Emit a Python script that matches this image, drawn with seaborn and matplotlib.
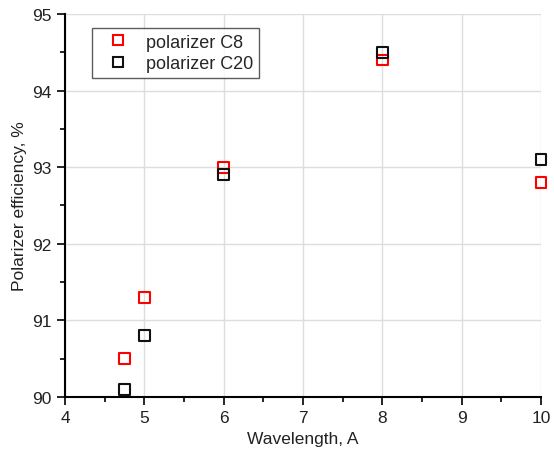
import matplotlib
matplotlib.use("Agg")
import matplotlib.pyplot as plt
import seaborn as sns
import pandas as pd
from matplotlib.ticker import MultipleLocator
from matplotlib.lines import Line2D

wavelength = [4.75, 5, 6, 8, 10]
eff_c8 = [90.5, 91.3, 93.0, 94.4, 92.8]
eff_c20 = [90.1, 90.8, 92.9, 94.5, 93.1]
series_names = ["polarizer C8", "polarizer C20"]
colors = ["#ff0000", "#111111"]

sns.set_theme(style="white")
plt.rcParams['font.family'] = ['Liberation Sans', 'DejaVu Sans']

fig = plt.figure(figsize=(5.54, 4.56), dpi=100)
ax = fig.add_axes([65/554, 1-398/456, (541-65)/554, (398-15)/456])

for ys, c in zip([eff_c8, eff_c20], colors):
    sns.scatterplot(x=wavelength, y=ys, marker="s", s=60, facecolors="none",
                    edgecolors=c, linewidth=1.5, ax=ax, legend=False, clip_on=False, zorder=3)
for coll, c in zip(ax.collections, colors):
    coll.set_facecolor("none")
    coll.set_edgecolor(c)

ax.set_xlim(4, 10)
ax.set_ylim(90, 95)
ax.xaxis.set_major_locator(MultipleLocator(1))
ax.xaxis.set_minor_locator(MultipleLocator(0.5))
ax.yaxis.set_major_locator(MultipleLocator(1))
ax.yaxis.set_minor_locator(MultipleLocator(0.5))
ax.grid(True, which="major", color="#dddddd", linewidth=1)
ax.set_axisbelow(True)
for s in ["top", "right"]:
    ax.spines[s].set_visible(False)
for s in ["left", "bottom"]:
    ax.spines[s].set_color("black")
    ax.spines[s].set_linewidth(1.5)
ax.tick_params(which="major", direction="out", length=6, width=1.2, color="black",
               labelsize=12.5, bottom=True, left=True, labelcolor="#222222")
ax.tick_params(which="minor", direction="out", length=3.5, width=1.2, color="black",
               bottom=True, left=True)
ax.set_xlabel("Wavelength, A", fontsize=12.5, color="#222222")
ax.set_ylabel("Polarizer efficiency, %", fontsize=12.5, color="#222222")

handles = [Line2D([], [], marker="s", linestyle="none", markersize=7, markerfacecolor="none",
                  markeredgecolor=c, markeredgewidth=1.5) for c in colors]
leg = ax.legend(handles, series_names, loc="upper left", bbox_to_anchor=(0.057, 0.963),
                fontsize=13, frameon=True, fancybox=False, edgecolor="#333333",
                handlelength=2.3, handletextpad=0.4, borderpad=0.3, labelspacing=0.25,
                borderaxespad=0)
leg.get_frame().set_linewidth(1.0)

fig.savefig("out.png", dpi=100)
